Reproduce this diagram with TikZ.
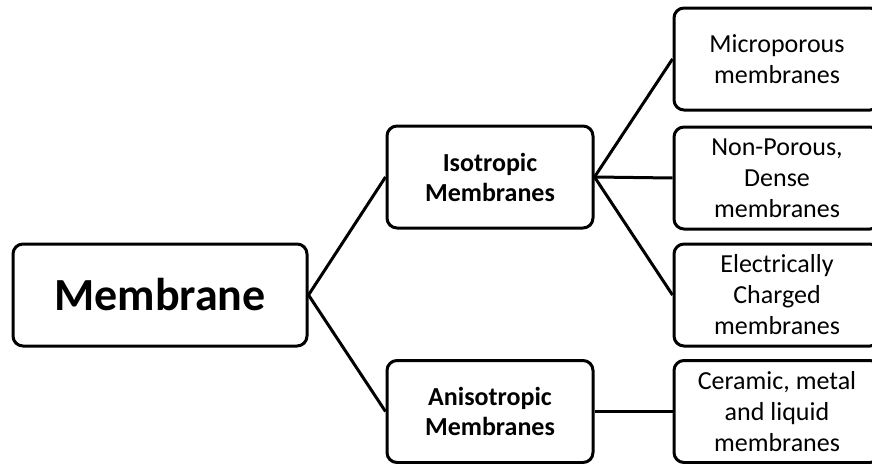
\documentclass[tikz,border=0pt]{standalone}
\usepackage{fontspec}
\setmainfont{Carlito}
\tikzset{
    box/.style={draw, line width=3pt, rounded corners=10pt, align=center,
        inner sep=0pt, minimum height=102pt},
    link/.style={line width=3pt},
}
\begin{document}
\begin{tikzpicture}[x=1pt,y=-1pt]
        \clip (0,0) rectangle (872,463);

        % Root
        \node [box, minimum width=294pt, font=\fontsize{46}{52}\selectfont\bfseries] (mem) at (160,295) {Membrane};

        % Two kinds
        \node [box, minimum width=206pt, font=\fontsize{26}{30}\selectfont\bfseries] (iso) at (490,177) {Isotropic\\Membranes};
        \node [box, minimum width=206pt, font=\fontsize{26}{30}\selectfont\bfseries] (aniso) at (490,411.5) {Anisotropic\\Membranes};

        % Leaves (right edge runs off the page)
        \node [box, minimum width=206pt, font=\fontsize{26}{31}\selectfont] (micro) at (777,59) {Microporous\\membranes};
        \node [box, minimum width=206pt, font=\fontsize{26}{31}\selectfont] (dense) at (777,178) {Non-Porous,\\Dense\\membranes};
        \node [box, minimum width=206pt, font=\fontsize{26}{31}\selectfont] (charged) at (777,295) {Electrically\\Charged\\membranes};
        \node [box, minimum width=206pt, font=\fontsize{26}{31}\selectfont] (ceramic) at (777,411.5) {Ceramic, metal\\and liquid\\membranes};

        % Connectors
        \draw [link] (mem.east) -- (iso.west);
        \draw [link] (mem.east) -- (aniso.west);
        \draw [link] (iso.east) -- (micro.west);
        \draw [link] (iso.east) -- (dense.west);
        \draw [link] (iso.east) -- (charged.west);
        \draw [link] (aniso.east) -- (ceramic.west);
    \end{tikzpicture}
\end{document}
